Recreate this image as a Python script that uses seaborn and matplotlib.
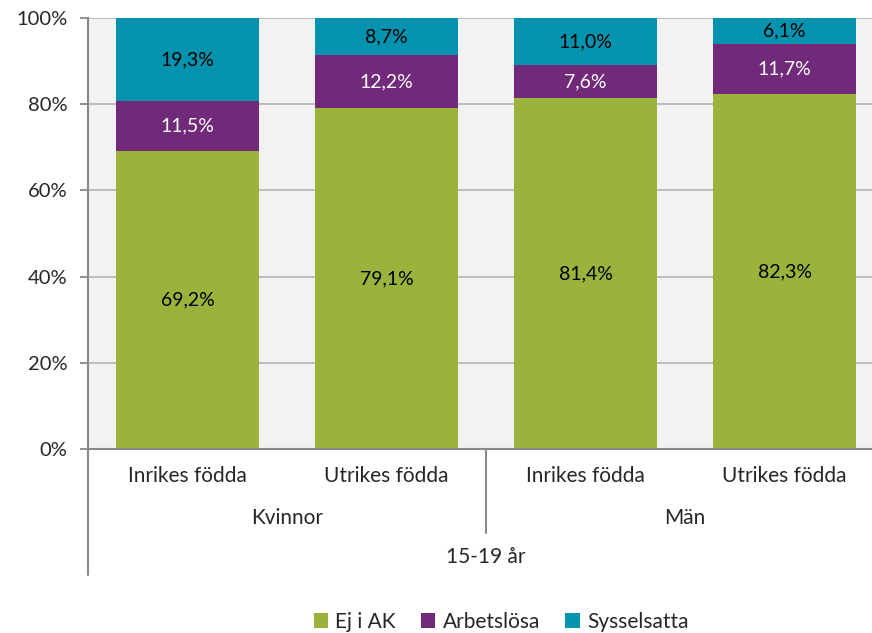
import pandas as pd
import numpy as np
import matplotlib.pyplot as plt
import seaborn as sns
from matplotlib.transforms import blended_transform_factory
from matplotlib.lines import Line2D
from matplotlib.patches import Patch

# Data (share of population 15-19 år, %)
groups = ['Inrikes födda', 'Utrikes födda', 'Inrikes födda', 'Utrikes födda']
genders = ['Kvinnor', 'Män']
series = ['Ej i AK', 'Arbetslösa', 'Sysselsatta']
ej_i_ak = [69.2, 79.1, 81.4, 82.3]
arbetslosa = [11.5, 12.2, 7.6, 11.7]
sysselsatta = [19.3, 8.7, 11.0, 6.1]
colors = ['#9BB23C', '#71297A', '#0493AF']
label_colors = ['black', 'white', 'black']

sns.set_theme(style='white')
plt.rcParams['font.family'] = ['Lato', 'DejaVu Sans']

fig = plt.figure(figsize=(8.72, 6.33), dpi=100)
ax = fig.add_axes([88 / 872, 184 / 633, 796 / 872, 431 / 633])
ax.set_facecolor('#F2F2F2')

x = np.arange(len(groups))
values = [ej_i_ak, arbetslosa, sysselsatta]
cum = np.cumsum(np.array(values), axis=0)

# draw tallest cumulative first so lower segments sit on top
for i in reversed(range(len(series))):
    df = pd.DataFrame({'pos': x, 'val': np.minimum(cum[i], 100)})
    sns.barplot(data=df, x='pos', y='val', color=colors[i], width=0.715,
                saturation=1, ax=ax, zorder=3, order=list(x), linewidth=0,
                edgecolor='none')

# segment labels
for i in range(len(series)):
    bottoms = cum[i] - np.array(values[i])
    for j in x:
        mid = bottoms[j] + values[i][j] / 2
        ax.text(j, mid, f'{values[i][j]:.1f}%'.replace('.', ','), ha='center', va='center',
                fontsize=14, color=label_colors[i], zorder=5)

ax.set_xlim(-0.5, 3.5)
ax.set_ylim(0, 100)
ax.set_yticks(range(0, 101, 20))
ax.set_yticklabels([f'{v}%' for v in range(0, 101, 20)], fontsize=14.5)
ax.set_xticks([])
ax.set_xlabel('')
ax.set_ylabel('')
ax.yaxis.grid(True, color='#B3B3B3', linewidth=1.2, zorder=0)
ax.set_axisbelow(True)
ax.tick_params(axis='y', which='major', left=True, length=6, width=1.3, color='#898989', pad=9)

for s in ['top', 'right']:
    ax.spines[s].set_visible(False)
for s in ['left', 'bottom']:
    ax.spines[s].set_color('#898989')
    ax.spines[s].set_linewidth(1.5)
    ax.spines[s].set_zorder(6)

# multi-level category axis
tr = blended_transform_factory(ax.transData, ax.transAxes)
for j, g in enumerate(groups):
    ax.text(j, -0.063, g, transform=tr, ha='center', va='center', fontsize=15)
for k, gname in enumerate(genders):
    ax.text(2 * k + 0.5, -0.16, gname, transform=tr, ha='center', va='center', fontsize=15)
ax.text(1.5, -0.25, '15-19 år', transform=tr, ha='center', va='center', fontsize=15)
ax.add_line(Line2D([1.5, 1.5], [0, -0.195], transform=tr, color='#898989', lw=1.5, clip_on=False))
ax.add_line(Line2D([-0.5, -0.5], [0, -0.293], transform=tr, color='#898989', lw=1.5, clip_on=False))

handles = [Patch(facecolor=c, edgecolor='none') for c in colors]
fig.legend(handles, series, loc='center', bbox_to_anchor=(501 / 872, 1 - 622 / 633), ncol=3,
           frameon=False, fontsize=15, handlelength=0.7, handleheight=0.7,
           handletextpad=0.35, columnspacing=1.2)

fig.savefig('out.png', dpi=100)
